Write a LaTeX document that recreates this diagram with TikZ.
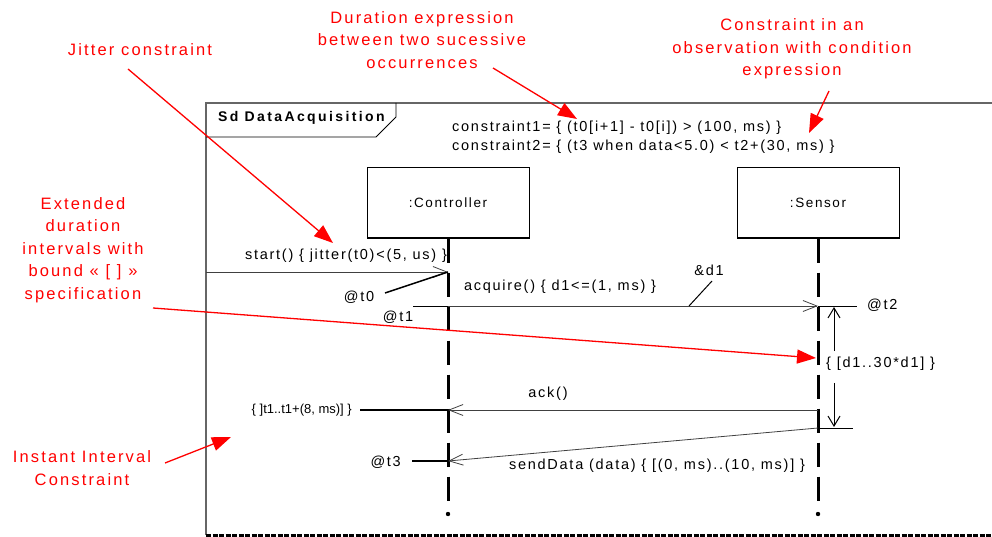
\documentclass[tikz,border=0pt]{standalone}
\usepackage{fontspec}
\setmainfont{Liberation Sans}[LetterSpace=12]
\newfontfamily\notefont{Liberation Sans}[LetterSpace=13]
\newfontfamily\tightfont{Liberation Sans}[LetterSpace=0]
\newfontfamily\framefont{Liberation Sans}[LetterSpace=17]
\usetikzlibrary{arrows.meta,calc,positioning}

\tikzset{
  lifehead/.style={draw,line width=1pt,minimum width=162pt,minimum height=70pt,
    font=\fontsize{13.5}{15}\selectfont},
  lifeline/.style={line width=3pt,dash pattern=on 24pt off 10pt},
  msg/.style={draw=black!75,line width=0.8pt,-{Straight Barb[length=14pt,width=11pt]}},
  lbl/.style={font=\fontsize{14.5}{16}\selectfont,inner sep=0pt},
  obs/.style={line width=1.5pt},
  durarrow/.style={line width=1pt,-{Straight Barb[length=10pt,width=12pt]}},
  note/.style={text=red,font=\notefont\fontsize{16.5}{22.5}\selectfont,align=center,inner sep=0pt},
  notearrow/.style={draw=red,line width=1.3pt,-{Triangle[length=19pt,width=14pt]}},
}

\begin{document}
\begin{tikzpicture}[x=1pt,y=-1pt]
  \useasboundingbox (0,0) rectangle (992,537);
  % ---- frame of the interaction
  \draw[black!60,line width=1.2pt] (206,535) -- (206,103) -- (992,103);
  \draw[line width=3pt,dash pattern=on 5pt off 1.5pt] (206,535) -- (992,535);
  \draw[line width=0.8pt] (206,137) -- (376,137) -- (396,117) -- (396,103);
  \node[font=\framefont\bfseries\fontsize{14}{16}\selectfont,inner sep=0pt,anchor=west] (sd) at (218,118) {Sd DataAcquisition};
  \node[lbl,anchor=west] (cons1) at (452,128) {constraint1= \{ (t0[i+1] - t0[i]) > (100, ms) \}};
  \node[lbl,anchor=west] (cons2) at (452,147) {constraint2= \{ (t3 when data<5.0) < t2+(30, ms) \}};

  % ---- lifelines
  \node[lifehead] (ctrl) at (448,203) {:Controller};
  \node[lifehead] (sens) at (818,203) {:Sensor};
  \coordinate (ctrlend) at (448,507);
  \coordinate (sensend) at (818,507);
  \draw[lifeline] (ctrl.south) -- (ctrlend);
  \draw[lifeline] (sens.south) -- (sensend);
  \fill (448,514) circle (2.2);
  \fill (818,514) circle (2.2);

  % ---- events
  \coordinate (gate) at (206,272);
  \coordinate (t0) at (448,272);
  \coordinate (t1) at (448,306);
  \coordinate (t2) at (818,306);
  \coordinate (ackS) at (818,410);
  \coordinate (ackC) at (448,410);
  \coordinate (sendS) at (818,428);
  \coordinate (t3) at (448,461);

  % ---- messages
  \draw[msg] (gate) -- (t0);
  \node[lbl] (mstart) at (346,256) {start() \{ jitter(t0)<(5, us) \}};
  \draw[msg] (t1) -- (t2);
  \node[lbl] (macq) at (560,287) {acquire() \{ d1<=(1, ms) \}};
  \draw[msg] (ackS) -- (ackC);
  \node[lbl] (mack) at (548,394) {ack()};
  \draw[msg] (sendS) -- (t3);
  \node[lbl] (msend) at (657,466) {sendData (data) \{ [(0, ms)..(10, ms)] \}};

  % ---- time observations and constraints
  \node[lbl] (at0) at (359,297) {@t0};
  \coordinate (at0e) at (385,293);
  \draw[obs] (at0e) -- (t0);
  \node[lbl] (at1) at (398,317) {@t1};
  \coordinate (at1e) at (413,306);
  \draw[line width=1pt] (at1e) -- (t1);
  \node[lbl] (d1) at (709,270) {\&d1};
  \coordinate (d1a) at (712,281);
  \coordinate (d1b) at (689,306);
  \draw[line width=1pt] (d1a) -- (d1b);
  \coordinate (at2w) at (857,306);
  \draw[line width=1pt] (t2) -- (at2w);
  \node[lbl,anchor=west] (at2) at (867,305) {@t2};
  \node[lbl,anchor=west] (dur) at (826,364) {\{ [d1..30*d1] \}};
  \coordinate (durtop) at (834,307);
  \coordinate (durbot) at (834,427);
  \draw[durarrow] (dur.north -| durtop) ++(0,-6) -- (durtop);
  \draw[durarrow] (dur.south -| durbot) ++(0,12) -- (durbot);
  \coordinate (sendSe) at (853,428);
  \draw[line width=1pt] (sendS) -- (sendSe);
  \node[lbl,anchor=east,font=\tightfont\fontsize{13}{15}\selectfont] (lack) at (352,410) {\{ ]t1..t1+(8, ms)] \}};
  \coordinate (lacke) at (360,410);
  \draw[obs] (lacke) -- (ackC);
  \node[lbl,anchor=east] (at3) at (401,462) {@t3};
  \coordinate (at3e) at (412,461);
  \draw[obs] (at3e) -- (t3);

  % ---- red notes
  \node[note] (njit) at (140,50) {Jitter constraint};
  \coordinate (njita) at (128,69);
  \coordinate (njitb) at (333,243);
  \draw[notearrow] (njita) -- (njitb);
  \node[note] (ndur) at (422,40) {Duration expression\\between two sucessive\\occurrences};
  \coordinate (ndura) at (493,68);
  \coordinate (ndurb) at (577,119);
  \draw[notearrow] (ndura) -- (ndurb);
  \node[note] (nobs) at (792,49) {Constraint in an\\observation with condition\\expression};
  \coordinate (nobsa) at (829,91);
  \coordinate (nobsb) at (809,133);
  \draw[notearrow] (nobsa) -- (nobsb);
  \node[note] (next) at (83,250) {Extended\\duration\\intervals with\\bound « [ ] »\\specification};
  \coordinate (nexta) at (153,308);
  \coordinate (nextb) at (816,358);
  \draw[notearrow] (nexta) -- (nextb);
  \node[note] (ninst) at (82,468) {Instant Interval\\Constraint};
  \coordinate (ninsta) at (165,463);
  \coordinate (ninstb) at (231,437);
  \draw[notearrow] (ninsta) -- (ninstb);
\end{tikzpicture}
\end{document}
